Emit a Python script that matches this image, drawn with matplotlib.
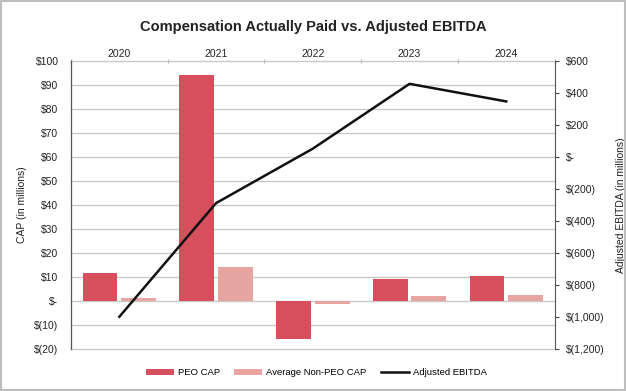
import matplotlib.pyplot as plt
from matplotlib.patches import Rectangle

plt.rcParams['font.family'] = ['Liberation Sans', 'DejaVu Sans']

years = ['2020', '2021', '2022', '2023', '2024']
peo_cap = [11.7, 94.2, -16.1, 9.0, 10.4]
non_peo_cap = [1.1, 14.2, -1.4, 1.8, 2.5]
ebitda = [-1000, -290, 50, 455, 345]

left_ticks = [100, 90, 80, 70, 60, 50, 40, 30, 20, 10, 0, -10, -20]
right_ticks = [600, 400, 200, 0, -200, -400, -600, -800, -1000, -1200]


def money(v):
    if v == 0:
        return '$-'
    if v < 0:
        return '$({:,})'.format(-v)
    return '${:,}'.format(v)


fig = plt.figure(figsize=(6.26, 3.91), dpi=100)
ax = fig.add_axes([0.1134, 0.108, 0.7726, 0.737])
ax2 = ax.twinx()

x = list(range(len(years)))
w = 0.36
ax.bar([i - 0.2 for i in x], peo_cap, width=w, color='#d64f5c', label='PEO CAP', zorder=3)
ax.bar([i + 0.2 for i in x], non_peo_cap, width=w, color='#e8a4a1', label='Average Non-PEO CAP', zorder=3)
ax2.plot(x, ebitda, color='#111111', lw=1.8, label='Adjusted EBITDA')

ax.set_xlim(-0.5, 4.5)
ax.set_ylim(-20, 100)
ax.set_yticks(left_ticks)
ax.set_yticklabels([money(v) for v in left_ticks])
ax.yaxis.grid(True, color='#c9c9c9', lw=1, zorder=0, clip_on=False)
ax.set_axisbelow(True)
ax.tick_params(axis='y', length=0, labelsize=7.5, colors='#222222', pad=9)
ax.set_ylabel('CAP (in millions)', fontsize=7.5, color='#222222', labelpad=5)

ax.xaxis.tick_top()
ax.set_xticks(x)
ax.set_xticklabels(years)
ax.set_xticks([i - 0.5 for i in range(len(years) + 1)], minor=True)
ax.tick_params(axis='x', which='major', length=0, labelsize=7.5, colors='#222222', pad=1.5)
ax.tick_params(axis='x', which='minor', length=3, color='#b0b0b0', width=0.8, direction='inout')

ax2.set_ylim(-1200, 600)
ax2.set_yticks(right_ticks)
ax2.set_yticklabels([money(v) for v in right_ticks])
ax2.tick_params(axis='y', length=3, labelsize=7.5, colors='#222222', pad=5, color='#444444')
ax2.set_ylabel('Adjusted EBITDA (in millions)', fontsize=7.5, color='#222222', labelpad=8)

for a in (ax, ax2):
    a.spines['top'].set_visible(False)
    a.spines['bottom'].set_visible(False)
ax.spines['right'].set_visible(False)
ax2.spines['left'].set_color('#555555')
ax2.spines['right'].set_color('#555555')

fig.suptitle('Compensation Actually Paid vs. Adjusted EBITDA', fontsize=10.5, fontweight='bold',
             color='#222222', y=0.95)

h1, l1 = ax.get_legend_handles_labels()
h2, l2 = ax2.get_legend_handles_labels()
fig.legend(h1 + h2, l1 + l2, loc='center', bbox_to_anchor=(0.505, 0.047), ncol=3, frameon=False,
           fontsize=6.8, handlelength=3.0, handleheight=0.6, columnspacing=1.5, handletextpad=0.4)

fig.patches.append(Rectangle((0.002, 0.003), 0.996, 0.994, transform=fig.transFigure,
                             fill=False, edgecolor='#bdbdbd', lw=1.5))

fig.savefig('out.png', dpi=100)
